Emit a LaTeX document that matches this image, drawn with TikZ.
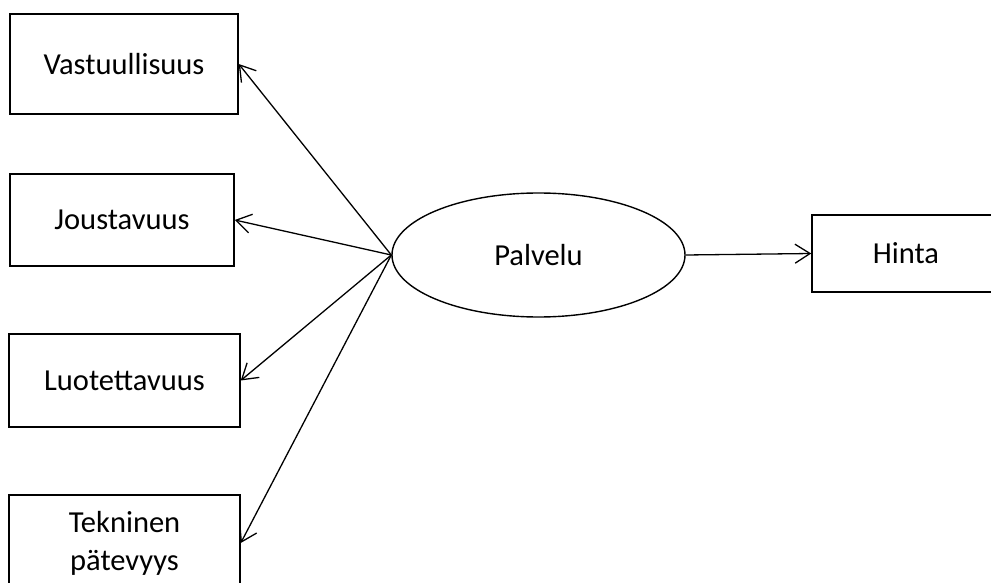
\documentclass[tikz,border=0pt]{standalone}
\usepackage{fontspec}
\setmainfont{Carlito}
\usetikzlibrary{%
  arrows.meta,shapes.geometric}
\tikzset {>={Straight Barb[length=15pt,width=19pt]}}
\tikzset{
  tekija/.style={draw,line width=1.5pt,inner sep=0pt,align=center,
    font=\fontsize{30.5}{38}\selectfont},
  palvelu/.style={draw,ellipse,line width=1.4pt,inner sep=0pt,
    minimum width=293,minimum height=124,
    font=\fontsize{30.5}{38}\selectfont},
  yhteys/.style={->,line width=1.3pt}
}

\begin{document}
\begin{tikzpicture}[x=1pt,y=-1pt]
\clip (0,0) rectangle (991,583);
\node[tekija,minimum width=228,minimum height=100] (vastuu)
  at (124,64) {Vastuullisuus};
\node[tekija,minimum width=224,minimum height=92] (jousto)
  at (122,220) {Joustavuus};
\node[tekija,minimum width=231,minimum height=93] (luotto)
  at (124.5,380.5) {Luotettavuus};
\node[tekija,minimum width=231,minimum height=96] (tekn)
  at (124.5,543) {Tekninen\\pätevyys};
\node[palvelu] (palv) at (538.5,255) {Palvelu};
\node[tekija,minimum width=188,minimum height=77] (hinta)
  at (906,253.5) {Hinta};
\draw[yhteys] (palv.west) -- (vastuu.east);
\draw[yhteys] (palv.west) -- (jousto.east);
\draw[yhteys] (palv.west) -- (luotto.east);
\draw[yhteys] (palv.west) -- (tekn.east);
\draw[yhteys] (palv.east) -- (hinta.west);
\end{tikzpicture}
\end{document}
